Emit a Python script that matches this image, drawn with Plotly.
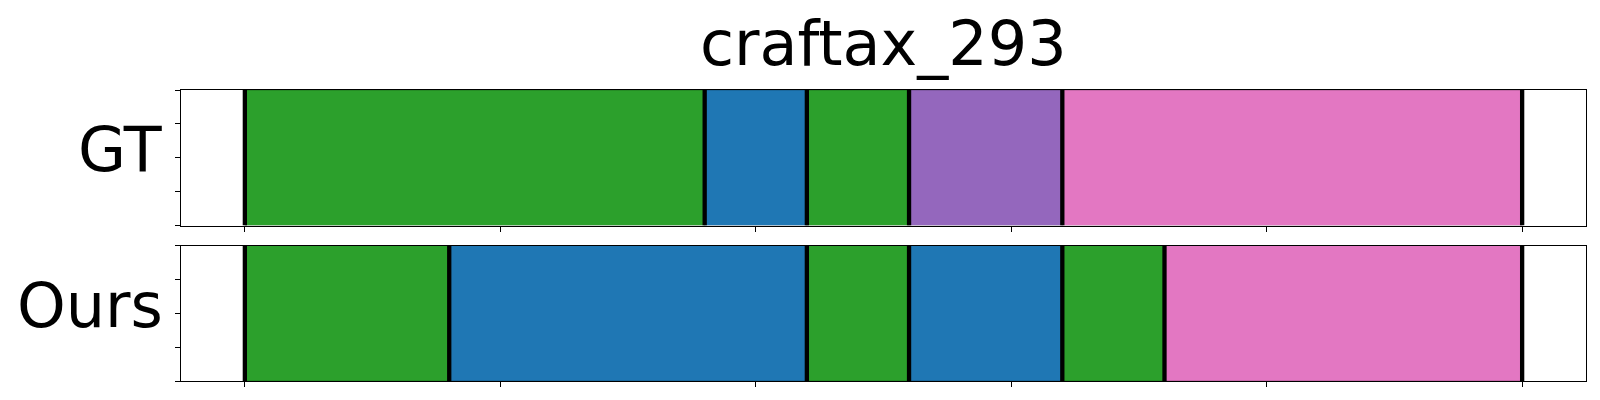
import plotly.graph_objects as go
from plotly.subplots import make_subplots

title = "craftax_293"
rows = ["GT", "Ours"]
# segments per row: (start, end, label)
gt_starts = [0, 9, 11, 13, 16]
gt_ends = [9, 11, 13, 16, 25]
gt_labels = ["green", "blue", "green", "purple", "pink"]
ours_starts = [0, 4, 11, 13, 16, 18]
ours_ends = [4, 11, 13, 16, 18, 25]
ours_labels = ["green", "blue", "green", "blue", "green", "pink"]
total_len = 25
x_ticks = [0, 5, 10, 15, 20, 25]
y_ticks = [0, 0.25, 0.5, 0.75, 1.0]

palette = {"green": "#2ca02c", "blue": "#1f77b4", "purple": "#9467bd", "pink": "#e377c2"}
FONT = "DejaVu Sans"

fig = make_subplots(rows=2, cols=1, shared_xaxes=False, vertical_spacing=0.0)

series = [(gt_starts, gt_ends, gt_labels), (ours_starts, ours_ends, ours_labels)]
for r, (starts, ends, labels) in enumerate(series, start=1):
    for s, e, lab in zip(starts, ends, labels):
        fig.add_trace(go.Bar(
            orientation="h", y=[0.5], x=[e - s], base=[s], width=[1.0],
            marker=dict(color=palette[lab], line=dict(color="rgba(0,0,0,0.25)", width=1)),
            showlegend=False, hoverinfo="skip"), row=r, col=1)
    bounds = sorted(set(starts + ends))
    xs, ys = [], []
    for b in bounds:
        xs += [b, b, None]
        ys += [0, 1, None]
    fig.add_trace(go.Scatter(x=xs, y=ys, mode="lines",
                             line=dict(color="black", width=4.3),
                             showlegend=False, hoverinfo="skip"), row=r, col=1)

pad = 0.05 * total_len
top_dom = [0.534, 1.0]
bot_dom = [0.0, 0.4656]
for r, dom in [(1, top_dom), (2, bot_dom)]:
    fig.update_xaxes(range=[-pad, total_len + pad], tickvals=x_ticks, showticklabels=False,
                     ticks="outside", ticklen=5, tickwidth=1, tickcolor="black",
                     showline=True, linecolor="black", linewidth=1.2, mirror=True,
                     showgrid=False, zeroline=False, row=r, col=1)
    fig.update_yaxes(range=[0, 1], tickvals=y_ticks, showticklabels=False,
                     ticks="outside", ticklen=5, tickwidth=1, tickcolor="black",
                     showline=True, linecolor="black", linewidth=1.2, mirror=True,
                     showgrid=False, zeroline=False, domain=dom, row=r, col=1)

fig.add_annotation(text=title, xref="paper", yref="paper", x=0.5, y=1.0,
                   xanchor="center", yanchor="bottom", yshift=8, showarrow=False,
                   font=dict(family=FONT, size=62, color="black"))
for r, name in enumerate(rows, start=1):
    yref = "y domain" if r == 1 else "y2 domain"
    fig.add_annotation(text=name, xref="paper", yref=yref, x=0, y=0.5,
                       xanchor="right", yanchor="middle", xshift=-16, yshift=8,
                       showarrow=False, font=dict(family=FONT, size=62, color="black"))

fig.update_layout(width=1600, height=400, barmode="overlay",
                  margin=dict(l=173, r=22, t=82, b=27),
                  plot_bgcolor="white", paper_bgcolor="white",
                  font=dict(family=FONT))
fig.write_html("out.html")
